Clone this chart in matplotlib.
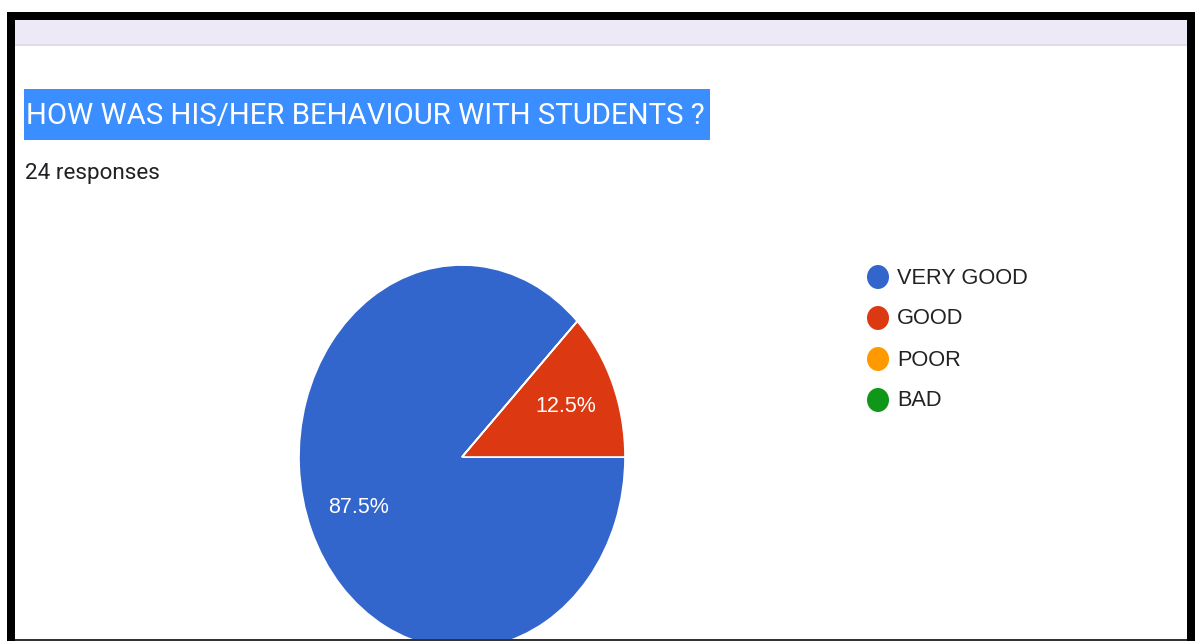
import matplotlib.pyplot as plt
from matplotlib.patches import Rectangle, Ellipse
from matplotlib import font_manager

# survey data (24 responses)
labels = ['VERY GOOD', 'GOOD', 'POOR', 'BAD']
counts = [21, 3, 0, 0]
colors = ['#3366cc', '#dc3912', '#ff9900', '#109618']
title = 'HOW WAS HIS/HER BEHAVIOUR WITH STUDENTS ?'
subtitle = '24 responses'

W, H = 1195, 641
fig = plt.figure(figsize=(W / 100, H / 100), dpi=100)
fig.patch.set_facecolor('white')

names = {f.name for f in font_manager.fontManager.ttflist}
narrow = 'Liberation Sans Narrow' if 'Liberation Sans Narrow' in names else 'Roboto'


def fit_width(t, px):
    # shrink/grow the font so the text spans about px pixels
    r = fig.canvas.get_renderer()
    w = t.get_window_extent(r).width
    t.set_fontsize(t.get_fontsize() * px / w)


# background layer in pixel coords (y down)
bg = fig.add_axes([0, 0, 1, 1])
bg.set_xlim(0, W)
bg.set_ylim(H, 0)
bg.axis('off')
bg.add_patch(Rectangle((15, 20), 1172, 24, color='#ede9f7', lw=0))
bg.add_patch(Rectangle((15, 44), 1172, 2, color='#dedce6', lw=0))
bg.add_patch(Rectangle((24, 89), 686, 51, color='#3a8eff', lw=0))
tt = bg.text(26, 116, title, color='white', fontsize=23, family=narrow,
             va='center', ha='left')
fit_width(tt, 682)
st = bg.text(25, 174, subtitle, color='#202124', fontsize=15, family='Roboto',
             va='center', ha='left')
fit_width(st, 135)

# legend
leg_y = [277, 318, 359, 400]
for lab, col, y in zip(labels, colors, leg_y):
    bg.add_patch(Ellipse((878, y), 22, 24, color=col, lw=0))
    bg.text(897, y + 1, lab, color='#222222', fontsize=15.7,
            family='Liberation Sans', va='center', ha='left')

# pie, stretched vertically like the screenshot
cx, cy, rx, ry = 462, 457, 163, 192
pax = fig.add_axes([(cx - rx) / W, (H - cy - ry) / H, 2 * rx / W, 2 * ry / H])
wedges, texts, autotexts = pax.pie(
    counts, colors=colors, startangle=45, counterclock=True,
    autopct=lambda p: f'{p:.1f}%' if p > 0 else '', pctdistance=0.69,
    wedgeprops=dict(edgecolor='white', linewidth=1.2),
    textprops=dict(color='white', fontsize=15.5, family='Liberation Sans'))
pax.set_aspect('auto')
pax.set_xlim(-1, 1)
pax.set_ylim(-1, 1)
pax.axis('off')

# frame on top
top = fig.add_axes([0, 0, 1, 1])
top.set_xlim(0, W)
top.set_ylim(H, 0)
top.axis('off')
top.patch.set_alpha(0)
top.add_patch(Rectangle((7, 12), 8, H - 12, color='black', lw=0))
top.add_patch(Rectangle((7, 12), W - 7, 8, color='black', lw=0))
top.add_patch(Rectangle((1187, 12), 8, H - 12, color='black', lw=0))
top.add_patch(Rectangle((15, 639), 1172, 2, color='#333333', lw=0))

fig.savefig('out.png', dpi=100)
